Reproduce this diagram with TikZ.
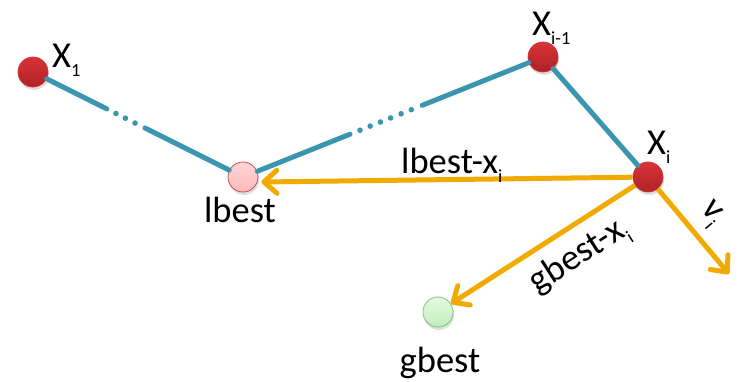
\documentclass[tikz,border=0pt]{standalone}
\usepackage{fontspec}
\setmainfont{Carlito}
\usetikzlibrary{arrows.meta,shadows,calc}
\definecolor{tealc}{HTML}{3A96AD}
\definecolor{orc}{HTML}{F0AA00}
\definecolor{ballTop}{HTML}{D93338}
\definecolor{ballBot}{HTML}{AE2226}
\definecolor{ballRim}{HTML}{C8383C}
\definecolor{lbFillTop}{HTML}{FFD4D6}
\definecolor{lbFillBot}{HTML}{FFBABD}
\definecolor{lbRim}{HTML}{C0504D}
\definecolor{gbFillTop}{HTML}{E4F9E0}
\definecolor{gbFillBot}{HTML}{C4EEBE}
\definecolor{gbRim}{HTML}{7DC575}
\newcommand{\lowidx}[1]{\raisebox{-9pt}{\fontsize{18.5}{18.5}\selectfont #1}}
\begin{document}
\begin{tikzpicture}[x=1pt,y=-1pt,
  ballshape/.style={circle, minimum size=30pt, inner sep=0pt, line width=0.8pt,
    drop shadow={shadow xshift=1pt, shadow yshift=-3pt, opacity=0.25}},
  redball/.style={ballshape, top color=ballTop, bottom color=ballBot, draw=ballRim},
  lbball/.style={ballshape, top color=lbFillTop, bottom color=lbFillBot, draw=lbRim},
  gbball/.style={ballshape, top color=gbFillTop, bottom color=gbFillBot, draw=gbRim},
  lbl/.style={font=\fontsize{36.5}{40}\selectfont, inner sep=0pt},
  pathline/.style={draw=tealc, line width=5pt, line cap=round},
  tdot/.style={fill=tealc},
  arr/.style={draw=orc, line width=5pt, -{Straight Barb[length=13pt, width=23pt, round]}},
]
\useasboundingbox (0,0) rectangle (740,381);

% balls
\node[redball] (X1) at (33,72) {};
\node[redball] (Xim1) at (543,57) {};
\node[redball] (Xi) at (648,177) {};
\node[lbball] (lbest) at (243,177) {};
\node[gbball] (gbest) at (438,312) {};
\coordinate (vend) at (729,274);

% teal path X1 - lbest
\draw[pathline] (X1) -- ($(X1)!0.352!(lbest)$);
\foreach \f in {0.395,0.440,0.486}
  \fill[tdot] ($(X1)!\f!(lbest)$) circle (2.8pt);
\draw[pathline] ($(X1)!0.533!(lbest)$) -- (lbest);

% teal path lbest - X_{i-1}
\draw[pathline] (lbest) -- ($(lbest)!0.357!(Xim1)$);
\foreach \f in {0.390,0.424,0.458,0.492,0.527,0.561}
  \fill[tdot] ($(lbest)!\f!(Xim1)$) circle (2.8pt);
\draw[pathline] ($(lbest)!0.597!(Xim1)$) -- (Xim1);

% teal X_{i-1} - X_i
\draw[pathline] (Xim1) -- (Xi);

% orange arrows
\draw[arr] (Xi) -- ([xshift=3pt,yshift=-5pt]lbest.east);
\draw[arr] (Xi) -- (gbest)
  node[lbl, pos=0.39, sloped, anchor=center, yshift=-30pt] (glab) {gbest-x\lowidx{i}};
\draw[arr] (Xi) -- (vend)
  node[lbl, pos=0.48, sloped, anchor=center, yshift=24pt] (vlab) {v\lowidx{i}};

% labels
\node[lbl, anchor=base west] (tX1) at (52,67) {X\lowidx{1}};
\node[lbl, anchor=base west] (tXim1) at (532,35) {X\lowidx{i-1}};
\node[lbl, anchor=base west] (tXi) at (647,154) {X\lowidx{i}};
\node[lbl, anchor=base west] (tlbx) at (401,173) {lbest-x\lowidx{i}};
\node[lbl, anchor=base] (tlb) at (240,222) {lbest};
\node[lbl, anchor=base] (tgb) at (440,372) {gbest};
\end{tikzpicture}
\end{document}
